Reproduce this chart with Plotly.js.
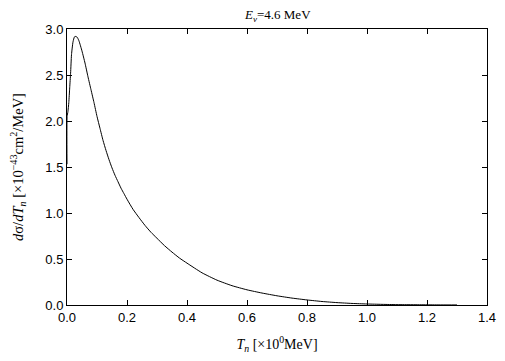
<!DOCTYPE html>
<html>
<head>
<meta charset="utf-8">
<script src="https://cdn.plot.ly/plotly-3.0.1.min.js"></script>
<style>html,body{margin:0;padding:0;background:#fff;}#chart{width:505px;height:361px;}</style>
</head>
<body>
<div id="chart"></div>
<script>
const Tn = [0, 0.0003, 0.003, 0.006, 0.009, 0.012, 0.015, 0.02, 0.025, 0.03, 0.035, 0.04, 0.05, 0.06, 0.07, 0.08, 0.09, 0.1, 0.11, 0.12, 0.13, 0.14, 0.15, 0.16, 0.17, 0.18, 0.19, 0.2, 0.22, 0.24, 0.26, 0.28, 0.3, 0.325, 0.35, 0.375, 0.4, 0.45, 0.5, 0.55, 0.6, 0.65, 0.7, 0.75, 0.8, 0.85, 0.9, 0.95, 1.0, 1.05, 1.1, 1.15, 1.2, 1.25, 1.3];
const dsigma = [1.53, 2.05, 2.1, 2.2, 2.36, 2.52, 2.72, 2.86, 2.915, 2.92, 2.905, 2.87, 2.76, 2.63, 2.48, 2.34, 2.2, 2.05, 1.92, 1.79, 1.68, 1.58, 1.49, 1.41, 1.34, 1.27, 1.21, 1.15, 1.04, 0.95, 0.865, 0.79, 0.725, 0.645, 0.575, 0.51, 0.455, 0.35, 0.27, 0.21, 0.165, 0.13, 0.10, 0.075, 0.055, 0.038, 0.026, 0.017, 0.011, 0.007, 0.004, 0.003, 0.002, 0.001, 0.0005];
const titleText = '<i>E</i><sub><i>ν</i></sub>=4.6 MeV';
const xTitle = '<i>T</i><sub><i>n</i></sub> [×10<sup>0</sup>MeV]';
const yTitle = '<i>d</i>σ/<i>dT</i><sub><i>n</i></sub> [×10<sup>−43</sup>cm<sup>2</sup>/MeV]';

const serif = 'Liberation Serif, Times New Roman, serif';
const axisCommon = {
  showline: true, linecolor: '#000', linewidth: 1, mirror: 'ticks',
  ticks: 'inside', ticklen: 5, tickcolor: '#000', tickwidth: 1,
  showgrid: false, zeroline: false,
  tickfont: {family: 'Liberation Sans, Arial, sans-serif', size: 13, color: '#000'}
};
Plotly.newPlot('chart', [{
  x: Tn, y: dsigma, type: 'scatter', mode: 'lines',
  line: {color: '#000', width: 1, shape: 'spline', smoothing: 0.5}, hoverinfo: 'skip'
}], {
  width: 505, height: 361,
  margin: {l: 67, r: 18, t: 29, b: 56},
  paper_bgcolor: '#fff', plot_bgcolor: '#fff',
  showlegend: false,
  title: {text: titleText, x: 0.55, xanchor: 'center', y: 0.96, yanchor: 'middle',
          font: {family: serif, size: 13, color: '#000'}},
  xaxis: Object.assign({}, axisCommon, {range: [0, 1.4], dtick: 0.2, tick0: 0, tickformat: '.1f',
    title: {text: xTitle, standoff: 15, font: {family: serif, size: 14, color: '#000'}}}),
  yaxis: Object.assign({}, axisCommon, {range: [0, 3], dtick: 0.5, tick0: 0, tickformat: '.1f',
    title: {text: yTitle, standoff: 18, font: {family: serif, size: 14.5, color: '#000'}}})
}, {displayModeBar: false, staticPlot: true});
</script>
</body>
</html>
